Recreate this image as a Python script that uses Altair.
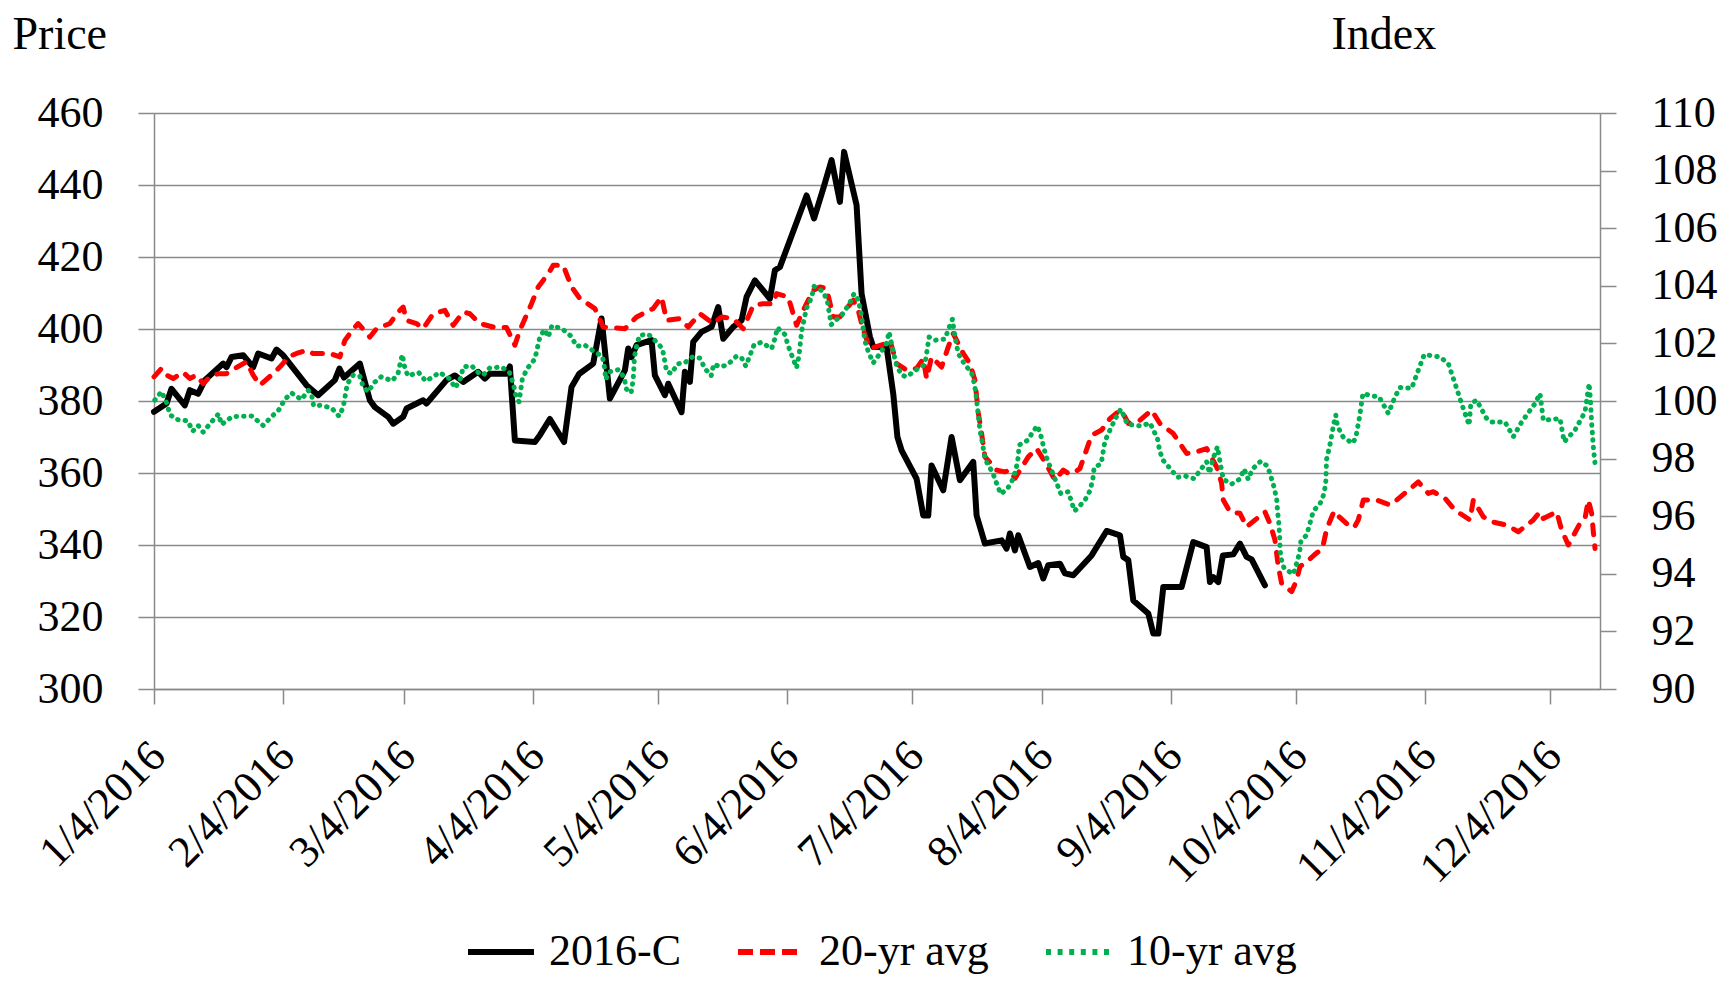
import altair as alt
import pandas as pd

# ---------------- data (day offset from 1/4/2016, value) ----------------
START = pd.Timestamp("2016-01-04")

C_2016 = [
    (0, 377), (3, 379.3), (4.2, 383.4), (7.4, 378.8), (8.6, 383), (10.6, 382), (12.2, 385.8),
    (16.6, 390.4), (17.4, 389.4), (18.6, 392.2), (21.4, 392.7), (23.8, 389.4), (25, 393.2),
    (28.2, 391.8), (29.4, 394.3), (31, 392.7), (36.6, 384.4), (39.4, 381.6), (43.4, 385.8),
    (44.5, 389), (45.6, 386.5), (49.4, 390.4), (51.8, 380.2), (53, 378.3), (56.2, 375.6),
    (57.4, 373.7), (59.8, 375.6), (60.6, 377.9), (64.6, 380.2), (65.4, 379.3), (70.2, 385.8),
    (72.2, 387.1), (74.2, 385.3), (77.8, 388.1), (79.4, 386.2), (80.6, 387.6), (84.6, 387.6),
    (85.4, 389.6), (86.6, 369), (91.4, 368.6), (92.6, 370.5), (95, 375), (98.4, 368.6),
    (100.2, 383.9), (102, 387.5), (105.4, 390.4), (107.4, 402.9), (109.4, 380.7), (113, 388.5),
    (113.8, 394.6), (114.6, 392.2), (115.8, 395.5), (119.4, 396.9), (120.2, 387.1), (122.6, 381.6),
    (123.4, 384.8), (126.6, 376.9), (127.4, 388.1), (128.6, 385.3), (129.4, 396.4), (131.4, 399.2),
    (133.8, 400.6), (135.4, 406.1), (136.6, 397.3), (139, 400.6), (141, 402.4), (142.2, 408.9),
    (144.2, 413.5), (147.8, 408.4), (149, 416.3), (150.2, 417.2), (156.6, 437.1), (158.4, 430.7),
    (160.6, 439), (162.6, 446.9), (164.6, 435.3), (165.6, 449.2), (168.6, 434.4), (169.8, 409.8),
    (171.8, 397.8), (172.6, 395), (175.8, 395), (177.4, 382), (178.4, 370), (179.4, 366.3),
    (183, 358.4), (184.6, 348.2), (185.8, 348.2), (186.6, 362.1), (189.4, 355.2), (191.4, 370),
    (193.4, 358), (196.6, 363.1), (197.4, 348.2), (199.4, 340.4), (203.4, 341.3), (204.6, 339),
    (205.4, 343.2), (206.6, 338.5), (207.4, 342.7), (210.2, 333.9), (212.2, 335), (213.4, 330.7),
    (214.6, 334.4), (217.4, 334.8), (218.6, 332.1), (220.6, 331.6), (225, 337.1), (228.6, 343.9),
    (231.8, 342.7), (232.6, 336.7), (233.8, 335.8), (235, 324.6), (238.6, 321), (239.8, 315.4),
    (241, 315.4), (242.2, 328.3), (246.6, 328.3), (249.4, 340.8), (252.6, 339.4), (253.4, 329.7),
    (254.2, 331.1), (255.4, 329.7), (256.5, 337.1), (259, 337.4), (260.6, 340.4), (262.2, 336.7),
    (263.4, 336), (266.6, 328.8),
]

AVG_20 = [
    (0, 100.84), (1.8, 101.13), (3, 100.9), (4.6, 100.78), (7, 101.0), (8.6, 100.78), (10.2, 100.9),
    (11.8, 100.6), (13.8, 100.9), (15.8, 100.95), (17.4, 100.95), (19.4, 101.13), (22.2, 101.36),
    (23.8, 100.9), (25.4, 100.55), (28.6, 100.95), (30.6, 101.24), (32.2, 101.53), (34.2, 101.65),
    (36.6, 101.76), (38.2, 101.65), (42.2, 101.65), (44.6, 101.53), (45.8, 102.1), (47.8, 102.5),
    (49, 102.69), (51.8, 102.22), (53.4, 102.51), (56.6, 102.69), (58.6, 103.09), (59.8, 103.26),
    (60.6, 102.8), (63, 102.69), (64.6, 102.51), (67, 103.03), (69.8, 103.15), (71.8, 102.63),
    (74.2, 103.09), (75.8, 103.03), (78.2, 102.69), (81.4, 102.57), (84.6, 102.55), (86.6, 101.94),
    (87.8, 102.46), (90.6, 103.38), (92.2, 103.96), (94.6, 104.42), (95.8, 104.71), (98.2, 104.71),
    (100.2, 103.96), (102.2, 103.56), (105.8, 103.21), (107.8, 102.57), (113, 102.51), (115.8, 102.92),
    (119.8, 103.21), (121.8, 103.61), (123, 102.8), (126.2, 102.86), (128.2, 102.57), (131, 103.03),
    (134.2, 102.69), (136.2, 102.92), (139, 102.86), (141.4, 102.51), (143.8, 103.32), (146.2, 103.38),
    (148.6, 103.38), (149.4, 103.73), (152.2, 103.61), (154.2, 102.63), (155.8, 103.15), (158.2, 103.84),
    (159.8, 103.96), (161.4, 103.9), (163, 102.92), (164.6, 102.92), (167.8, 103.5), (169, 103.15),
    (170.2, 102.46), (171.8, 101.82), (175.8, 102.0), (176.6, 102.11), (178.2, 101.3), (180.6, 101.07),
    (183, 101.13), (184.6, 101.47), (185.4, 100.78), (186.6, 101.53), (189, 101.18), (190.6, 101.88),
    (191.8, 102.34), (194.2, 101.65), (195.8, 101.3), (197, 100.72), (197.8, 99.6), (198.6, 98.87),
    (199.4, 98.06), (202.2, 97.6), (204.2, 97.54), (205.4, 97.6), (206.6, 97.31), (209.8, 98.06),
    (211.8, 98.35), (213.8, 97.89), (216.2, 97.25), (218.2, 97.6), (219.4, 97.49), (220.6, 97.49),
    (222.2, 97.66), (225, 98.81), (227.4, 98.99), (229.4, 99.39), (231.8, 99.68), (233, 99.45),
    (233.8, 99.22), (236.6, 99.33), (239.4, 99.68), (241.4, 99.22), (244.6, 98.87), (247.8, 98.18),
    (250.2, 98.23), (252.6, 98.35), (255, 97.71), (256.2, 97.14), (256.6, 96.56), (258.2, 96.15),
    (260.6, 96.1), (262.2, 95.63), (266.6, 96.15), (267.8, 95.75), (269, 95.17), (269.8, 94.25),
    (270.6, 93.67), (273, 93.38), (274.2, 93.78), (275, 94.25), (276.6, 94.42), (278.4, 94.65),
    (280.4, 94.88), (281.4, 95.55), (283.2, 96.18), (284.4, 95.98), (286.4, 95.72), (288, 95.6),
    (289, 95.87), (290.2, 96.56), (293.4, 96.56), (296.6, 96.39), (298.2, 96.56), (300.6, 96.85),
    (303.4, 97.19), (305.8, 96.79), (307, 96.85), (309.8, 96.62), (312.2, 96.21), (315.8, 95.87),
    (316.6, 96.56), (319, 95.98), (321, 95.81), (324.6, 95.69), (327.4, 95.46), (331, 95.87),
    (332.6, 96.15), (333.4, 95.92), (336.6, 96.15), (337.8, 95.52), (339.4, 95.0), (342.2, 95.75),
    (343.4, 95.92), (344.2, 96.56), (345, 96.1), (345.4, 95.46), (345.8, 94.88),
]

AVG_10 = [
    (0.2, 100.03), (1.8, 100.33), (3.1, 99.91), (3.8, 99.53), (5.3, 99.36), (8.1, 99.31), (9.3, 98.95),
    (10.6, 99.15), (11.8, 98.92), (13.6, 99.24), (15.5, 99.55), (16.2, 99.18), (18.8, 99.46),
    (21.4, 99.47), (23.4, 99.48), (24.8, 99.32), (26.2, 99.15), (28.1, 99.44), (30, 99.7),
    (31.4, 100.06), (33, 100.28), (35.4, 100.05), (37, 100.37), (37.8, 100.23), (38.3, 99.83),
    (39.9, 99.85), (42.6, 99.76), (44.4, 99.47), (45.4, 99.78), (45.9, 100.19), (46.4, 100.6),
    (47.8, 100.9), (49.4, 100.86), (50.2, 100.49), (51.4, 100.32), (52.8, 100.63), (54.5, 100.84),
    (57.2, 100.7), (58.6, 100.98), (59.2, 101.39), (59.6, 101.61), (60.1, 101.21), (60.9, 100.87),
    (63.5, 100.99), (65.2, 100.69), (67, 100.84), (68.5, 100.99), (70.9, 100.78), (72.3, 100.45),
    (73.6, 100.8), (74.2, 101.18), (76.2, 101.23), (77.9, 100.98), (79, 100.9), (80.6, 101.15),
    (83.4, 101.18), (85.3, 100.99), (86.2, 100.61), (86.8, 100.21), (87.6, 99.97), (88, 100.37),
    (88.4, 100.78), (89.6, 101.13), (91.4, 101.46), (92, 101.84), (92.6, 102.22), (93.7, 102.48),
    (94.6, 102.22), (95.5, 102.62), (98, 102.5), (100.1, 102.25), (101.4, 101.9), (103.4, 101.94),
    (105.8, 101.7), (107.6, 101.55), (108.1, 101.16), (108.4, 100.75), (109.2, 101.01), (111.5, 101.09),
    (112.8, 100.82), (113.4, 100.41), (114.5, 100.28), (115, 100.75), (115.3, 101.53), (115.8, 101.9),
    (116.5, 102.28), (118.6, 102.32), (120.6, 102.05), (122, 101.82), (122.5, 101.44), (123, 101.03),
    (124.2, 100.95), (125.6, 101.29), (127.3, 101.32), (129.2, 101.53), (131, 101.49), (132.2, 101.13),
    (133.7, 100.87), (134.3, 101.28), (136, 101.18), (137.7, 101.27), (139.8, 101.56), (141, 101.5),
    (142, 101.21), (143, 101.58), (144, 101.95), (145.8, 102.04), (148.2, 101.82), (149, 102.17),
    (149.6, 102.55), (151.4, 102.31), (152.2, 101.91), (153.2, 101.53), (154.2, 101.15), (154.8, 101.59),
    (155.4, 102.42), (156, 102.83), (156.6, 103.23), (157.8, 103.59), (158.4, 103.98), (160.6, 103.8),
    (161.6, 103.45), (162.5, 102.65), (163.4, 102.78), (165, 102.97), (166.8, 103.36), (168, 103.73),
    (169, 103.52), (169.6, 103.11), (170, 102.72), (170.4, 102.28), (170.9, 101.9), (172.6, 101.32),
    (174.2, 101.65), (175.8, 102.0), (176.4, 102.4), (177.4, 101.7), (178.2, 101.24), (179.4, 100.9),
    (180.6, 100.84), (183, 101.09), (185, 101.27), (186, 102.22), (187.4, 102.11), (188.4, 102.13),
    (189.8, 102.15), (190.8, 102.55), (191.6, 102.84), (192, 102.43), (192.5, 102.01), (193, 101.65),
    (194.5, 101.28), (196.2, 100.98), (196.9, 100.58), (197.3, 100.17), (197.6, 99.77), (198.2, 98.99),
    (198.8, 98.55), (199.2, 98.15), (200, 97.81), (201.2, 97.54), (202.2, 97.14), (203.2, 96.77),
    (204.8, 96.95), (206.1, 97.28), (206.9, 97.66), (207.4, 98.06), (207.6, 98.47), (209.7, 98.64),
    (210.9, 98.93), (212, 99.14), (212.9, 98.76), (213.6, 98.33), (214.4, 97.95), (216.5, 97.19),
    (217.6, 96.79), (219.4, 96.85), (220.9, 96.18), (223.3, 96.53), (224.6, 96.88), (225.3, 97.29),
    (225.6, 97.68), (227.3, 97.83), (228.2, 98.61), (229.4, 98.99), (230.6, 99.36), (232, 99.72),
    (232.6, 99.53), (233.6, 99.19), (237, 99.13), (239, 99.24), (240.8, 98.7), (241.3, 98.29),
    (242.1, 97.95), (243.8, 97.66), (245.6, 97.35), (247.6, 97.39), (249.6, 97.3), (251.2, 97.62),
    (252.6, 97.89), (253.3, 97.49), (254.1, 97.98), (255.2, 98.41), (256, 97.74), (256.6, 97.29),
    (258.5, 97.11), (260.6, 97.29), (261.6, 97.64), (262.6, 97.28), (263.6, 97.64), (265.6, 97.91),
    (267.2, 97.74), (268, 97.39), (268.8, 97.0), (269.4, 96.6), (269.6, 96.2), (269.9, 95.79),
    (270.1, 95.38), (270.2, 94.97), (270.4, 94.56), (271.2, 94.19), (273.4, 93.99), (274.2, 94.36),
    (274.9, 94.73), (275.2, 95.11), (276.6, 95.35), (277.4, 95.75), (278.2, 96.18), (279.8, 96.43),
    (280.8, 96.79), (281.2, 97.19), (281.3, 97.6), (281.4, 97.98), (282.1, 98.41), (282.6, 98.8),
    (283.1, 99.2), (283.6, 99.51), (284, 99.13), (285.3, 98.76), (287.6, 98.53), (288.4, 98.73),
    (289.3, 99.45), (290.1, 100.26), (292.2, 100.18), (294, 100.14), (296.2, 99.57), (297.8, 100.14),
    (299, 100.47), (301.8, 100.44), (303.4, 101.07), (304.8, 101.61), (308.6, 101.53), (310.6, 101.3),
    (312.2, 100.61), (314, 99.82), (315.6, 99.16), (316, 99.91), (317.4, 100.03), (319.8, 99.39),
    (321, 99.27), (324.2, 99.27), (326.2, 98.76), (328.2, 99.27), (331.4, 99.91), (332.6, 100.26),
    (333.4, 99.33), (337.4, 99.39), (338.4, 98.58), (341, 98.99), (343.4, 99.62), (344.4, 100.61),
    (344.7, 100.03), (345, 99.22), (345.4, 98.41), (345.8, 97.83),
]

SERIES = ["2016-C", "20-yr avg", "10-yr avg"]
COLORS = ["#000000", "#FF0000", "#00B050"]
LEGEND_DASHES = [[1, 0], [15, 7], [5, 6.6]]   # legend symbols (butt caps)
DASH_20 = [10, 11]                            # plot line, round caps
DOT_10 = [0.5, 7]                             # plot line, round caps
PRICE_TICKS = list(range(300, 461, 20))
INDEX_TICKS = list(range(90, 111, 2))
MONTHS = list(range(1, 13))

FONT = "Liberation Serif"
GRAY = "#8a8a8a"
FS = 44
TFS = 46


def frame(points, name):
    return pd.DataFrame({
        "date": [(START + pd.Timedelta(days=d)).strftime("%Y-%m-%dT%H:%M:%S") for d, _ in points],
        "value": [v for _, v in points],
        "series": name,
    })


df_c = frame(C_2016, SERIES[0])
df_20 = frame(AVG_20, SERIES[1])
df_10 = frame(AVG_10, SERIES[2])

leg = alt.Legend(
    orient="none", legendX=311, legendY=803, direction="horizontal", title=None,
    labelFont=FONT, labelFontSize=FS, labelColor="black", labelLimit=0,
    symbolType="stroke", symbolSize=66 * 66, symbolStrokeWidth=6, symbolOpacity=1,
    columnPadding=45, labelOffset=12, padding=0, rowPadding=0,
)

x = alt.X(
    "date:T",
    scale=alt.Scale(
        domain=[alt.DateTime(year=2016, month=1, date=4), alt.DateTime(year=2016, month=12, date=16)],
        nice=False,
    ),
    axis=alt.Axis(
        values=[alt.DateTime(year=2016, month=m, date=4) for m in MONTHS],
        format="%-m/%-d/%Y", labelAngle=-45, labelAlign="right", labelBaseline="middle",
        labelPadding=45, labelOffset=4, labelFont=FONT, labelFontSize=FS, labelColor="black",
        labelOverlap=False, labelFlush=False, labelBound=False,
        tickSize=15, tickColor=GRAY, tickWidth=1.5, domainColor=GRAY, domainWidth=1.5,
        grid=False, title=None,
    ),
)

y_left = alt.Y(
    "value:Q",
    scale=alt.Scale(domain=[300, 460], nice=False, zero=False),
    axis=alt.Axis(
        orient="left", values=PRICE_TICKS, grid=True, gridColor=GRAY, gridWidth=1.5,
        tickSize=16, tickColor=GRAY, tickWidth=1.5, domainColor=GRAY, domainWidth=1.5,
        labelFont=FONT, labelFontSize=FS, labelColor="black", labelPadding=35,
        title="Price", titleAngle=0, titleX=-142, titleY=-65, titleAlign="left",
        titleBaseline="alphabetic", titleFont=FONT, titleFontSize=TFS,
        titleFontWeight="normal", titleColor="black",
    ),
)

y_right = alt.Y(
    "value:Q",
    scale=alt.Scale(domain=[90, 110], nice=False, zero=False),
    axis=alt.Axis(
        orient="right", values=INDEX_TICKS, grid=False,
        tickSize=16, tickColor=GRAY, tickWidth=1.5, domainColor=GRAY, domainWidth=1.5,
        labelFont=FONT, labelFontSize=FS, labelColor="black", labelPadding=35,
        title="Index", titleAngle=0, titleX=-269, titleY=-65, titleAlign="left",
        titleBaseline="alphabetic", titleFont=FONT, titleFontSize=TFS,
        titleFontWeight="normal", titleColor="black",
    ),
)

color = alt.Color("series:N", scale=alt.Scale(domain=SERIES, range=COLORS), legend=leg)
dash = alt.StrokeDash("series:N", scale=alt.Scale(domain=SERIES, range=LEGEND_DASHES), legend=leg)

black = alt.Chart(df_c).mark_line(strokeWidth=6, strokeJoin="round", strokeCap="round").encode(
    x=x, y=y_left, color=color
)
red = alt.Chart(df_20).mark_line(
    strokeWidth=5, strokeJoin="round", strokeCap="round", strokeDash=DASH_20
).encode(x=x, y=y_right, color=color)
green = alt.Chart(df_10).mark_line(
    strokeWidth=5, strokeJoin="round", strokeCap="round", strokeDash=DOT_10
).encode(x=x, y=y_right, color=color)
# invisible layer that only feeds the dash patterns into the shared legend
key = alt.Chart(df_20).mark_line(opacity=0).encode(x=x, y=y_right, color=color, strokeDash=dash)

chart = (
    alt.layer(black, alt.layer(red, green, key))
    .resolve_scale(y="independent")
    .properties(
        width=1446, height=576,
        padding={"left": 146, "top": 105, "right": 127, "bottom": 285},
        autosize=alt.AutoSizeParams(type="none"),
        background="white",
    )
    .configure_view(stroke=None)
    .configure(font=FONT)
)

chart.save("out.html", embed_options={"renderer": "svg", "actions": False})
